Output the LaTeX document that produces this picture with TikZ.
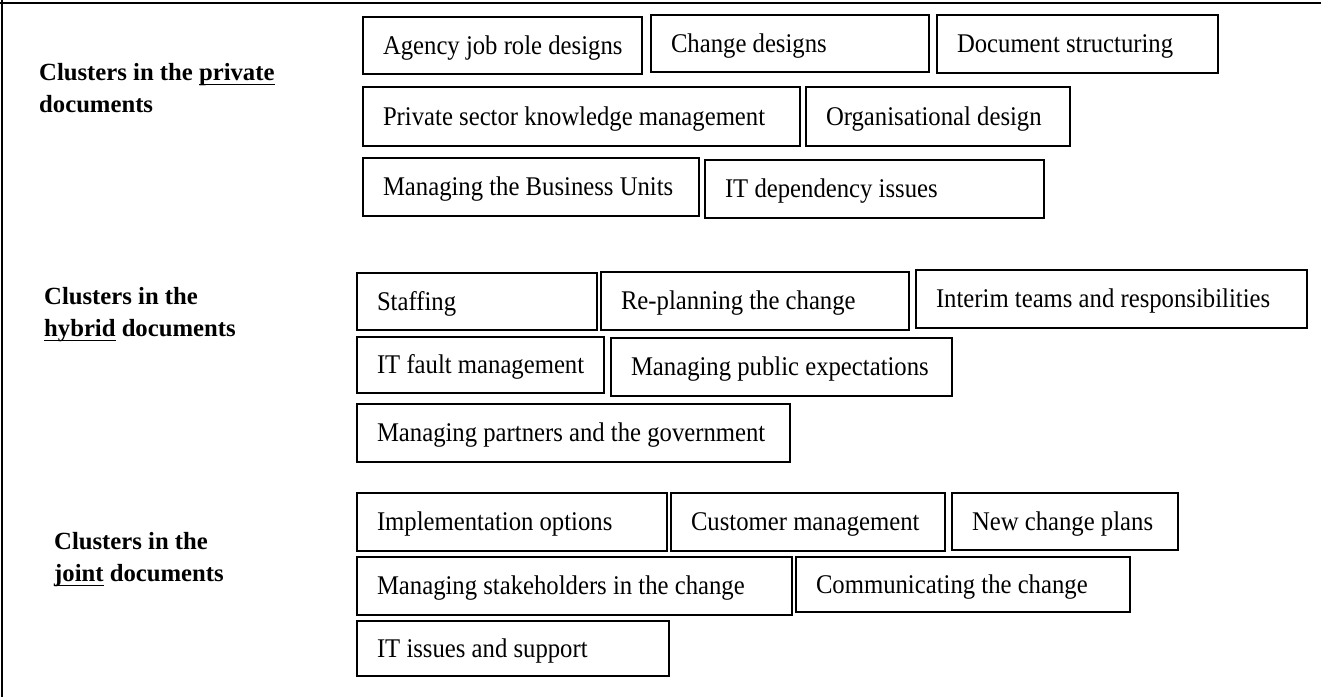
\documentclass[tikz,border=0pt]{standalone}
\usepackage{fontspec}
\setmainfont{Liberation Serif}
\newfontfamily\boxfont{Liberation Serif}[FakeStretch=0.915]
\newcommand\myul[1]{\setbox0\hbox{#1}\rlap{\rule[-5.4pt]{\wd0}{1.6pt}}\box0\relax}
\tikzset{
  cbox/.style={draw, line width=2.2pt, anchor=north west, outer sep=0pt,
    inner xsep=20pt, inner ysep=0pt, text height=17.9pt, text depth=0pt,
    font=\fontsize{27}{30}\boxfont},
  lab/.style={anchor=base west, align=left, inner sep=0pt,
    font=\fontsize{24.7}{32}\selectfont\bfseries},
  frameline/.style={line width=2pt}
}
\newcommand\cbx[6]{%
  \pgfmathsetmacro\cbw{#4-#2}\pgfmathsetmacro\cbh{#5-#3}\pgfmathsetmacro\cbt{#4-#2-40}%
  \node[cbox, minimum width=\cbw pt, minimum height=\cbh pt] (#1) at (#2,#3) {\makebox[\cbt pt][l]{#6}};}
\begin{document}
\begin{tikzpicture}[x=1pt,y=-1pt]
\useasboundingbox (0,0) rectangle (1321,697);
\coordinate (tr) at (1321,3);
\coordinate (bl) at (2,697);
\draw[frameline] (0,3) -- (tr);
\draw[frameline] (2,0) -- (bl);
% labels
\node[lab] (lpriv) at (39,112) {Clusters in the \myul{private}\\documents};
\node[lab] (lhyb) at (44,336) {Clusters in the\\\myul{hybrid} documents};
\node[lab] (ljoint) at (54,581) {Clusters in the\\\myul{joint} documents};
% private
\cbx{agency}{363}{17}{642}{74}{Agency job role designs}
\cbx{chdes}{651}{15}{929}{72}{Change designs}
\cbx{docstr}{937}{15}{1218}{73}{Document structuring}
\cbx{pskm}{363}{87}{800}{146}{Private sector knowledge management}
\cbx{orgdes}{806}{87}{1070}{146}{Organisational design}
\cbx{mbu}{363}{158}{699}{216}{Managing the Business Units}
\cbx{itdep}{705}{160}{1044}{218}{IT dependency issues}
% hybrid
\cbx{staff}{357}{273}{597}{330}{Staffing}
\cbx{replan}{601}{272}{909}{330}{Re-planning the change}
\cbx{interim}{916}{270}{1307}{328}{Interim teams and responsibilities}
\cbx{itfault}{357}{337}{604}{393}{IT fault management}
\cbx{mpe}{611}{338}{952}{396}{Managing public expectations}
\cbx{mpg}{357}{404}{790}{462}{Managing partners and the government}
% joint
\cbx{impl}{357}{493}{667}{551}{Implementation options}
\cbx{cust}{671}{493}{945}{551}{Customer management}
\cbx{newcp}{952}{493}{1178}{550}{New change plans}
\cbx{stake}{357}{557}{792}{615}{Managing stakeholders in the change}
\cbx{comm}{796}{557}{1130}{612}{Communicating the change}
\cbx{itis}{357}{621}{669}{676}{IT issues and support}
\end{tikzpicture}
\end{document}
